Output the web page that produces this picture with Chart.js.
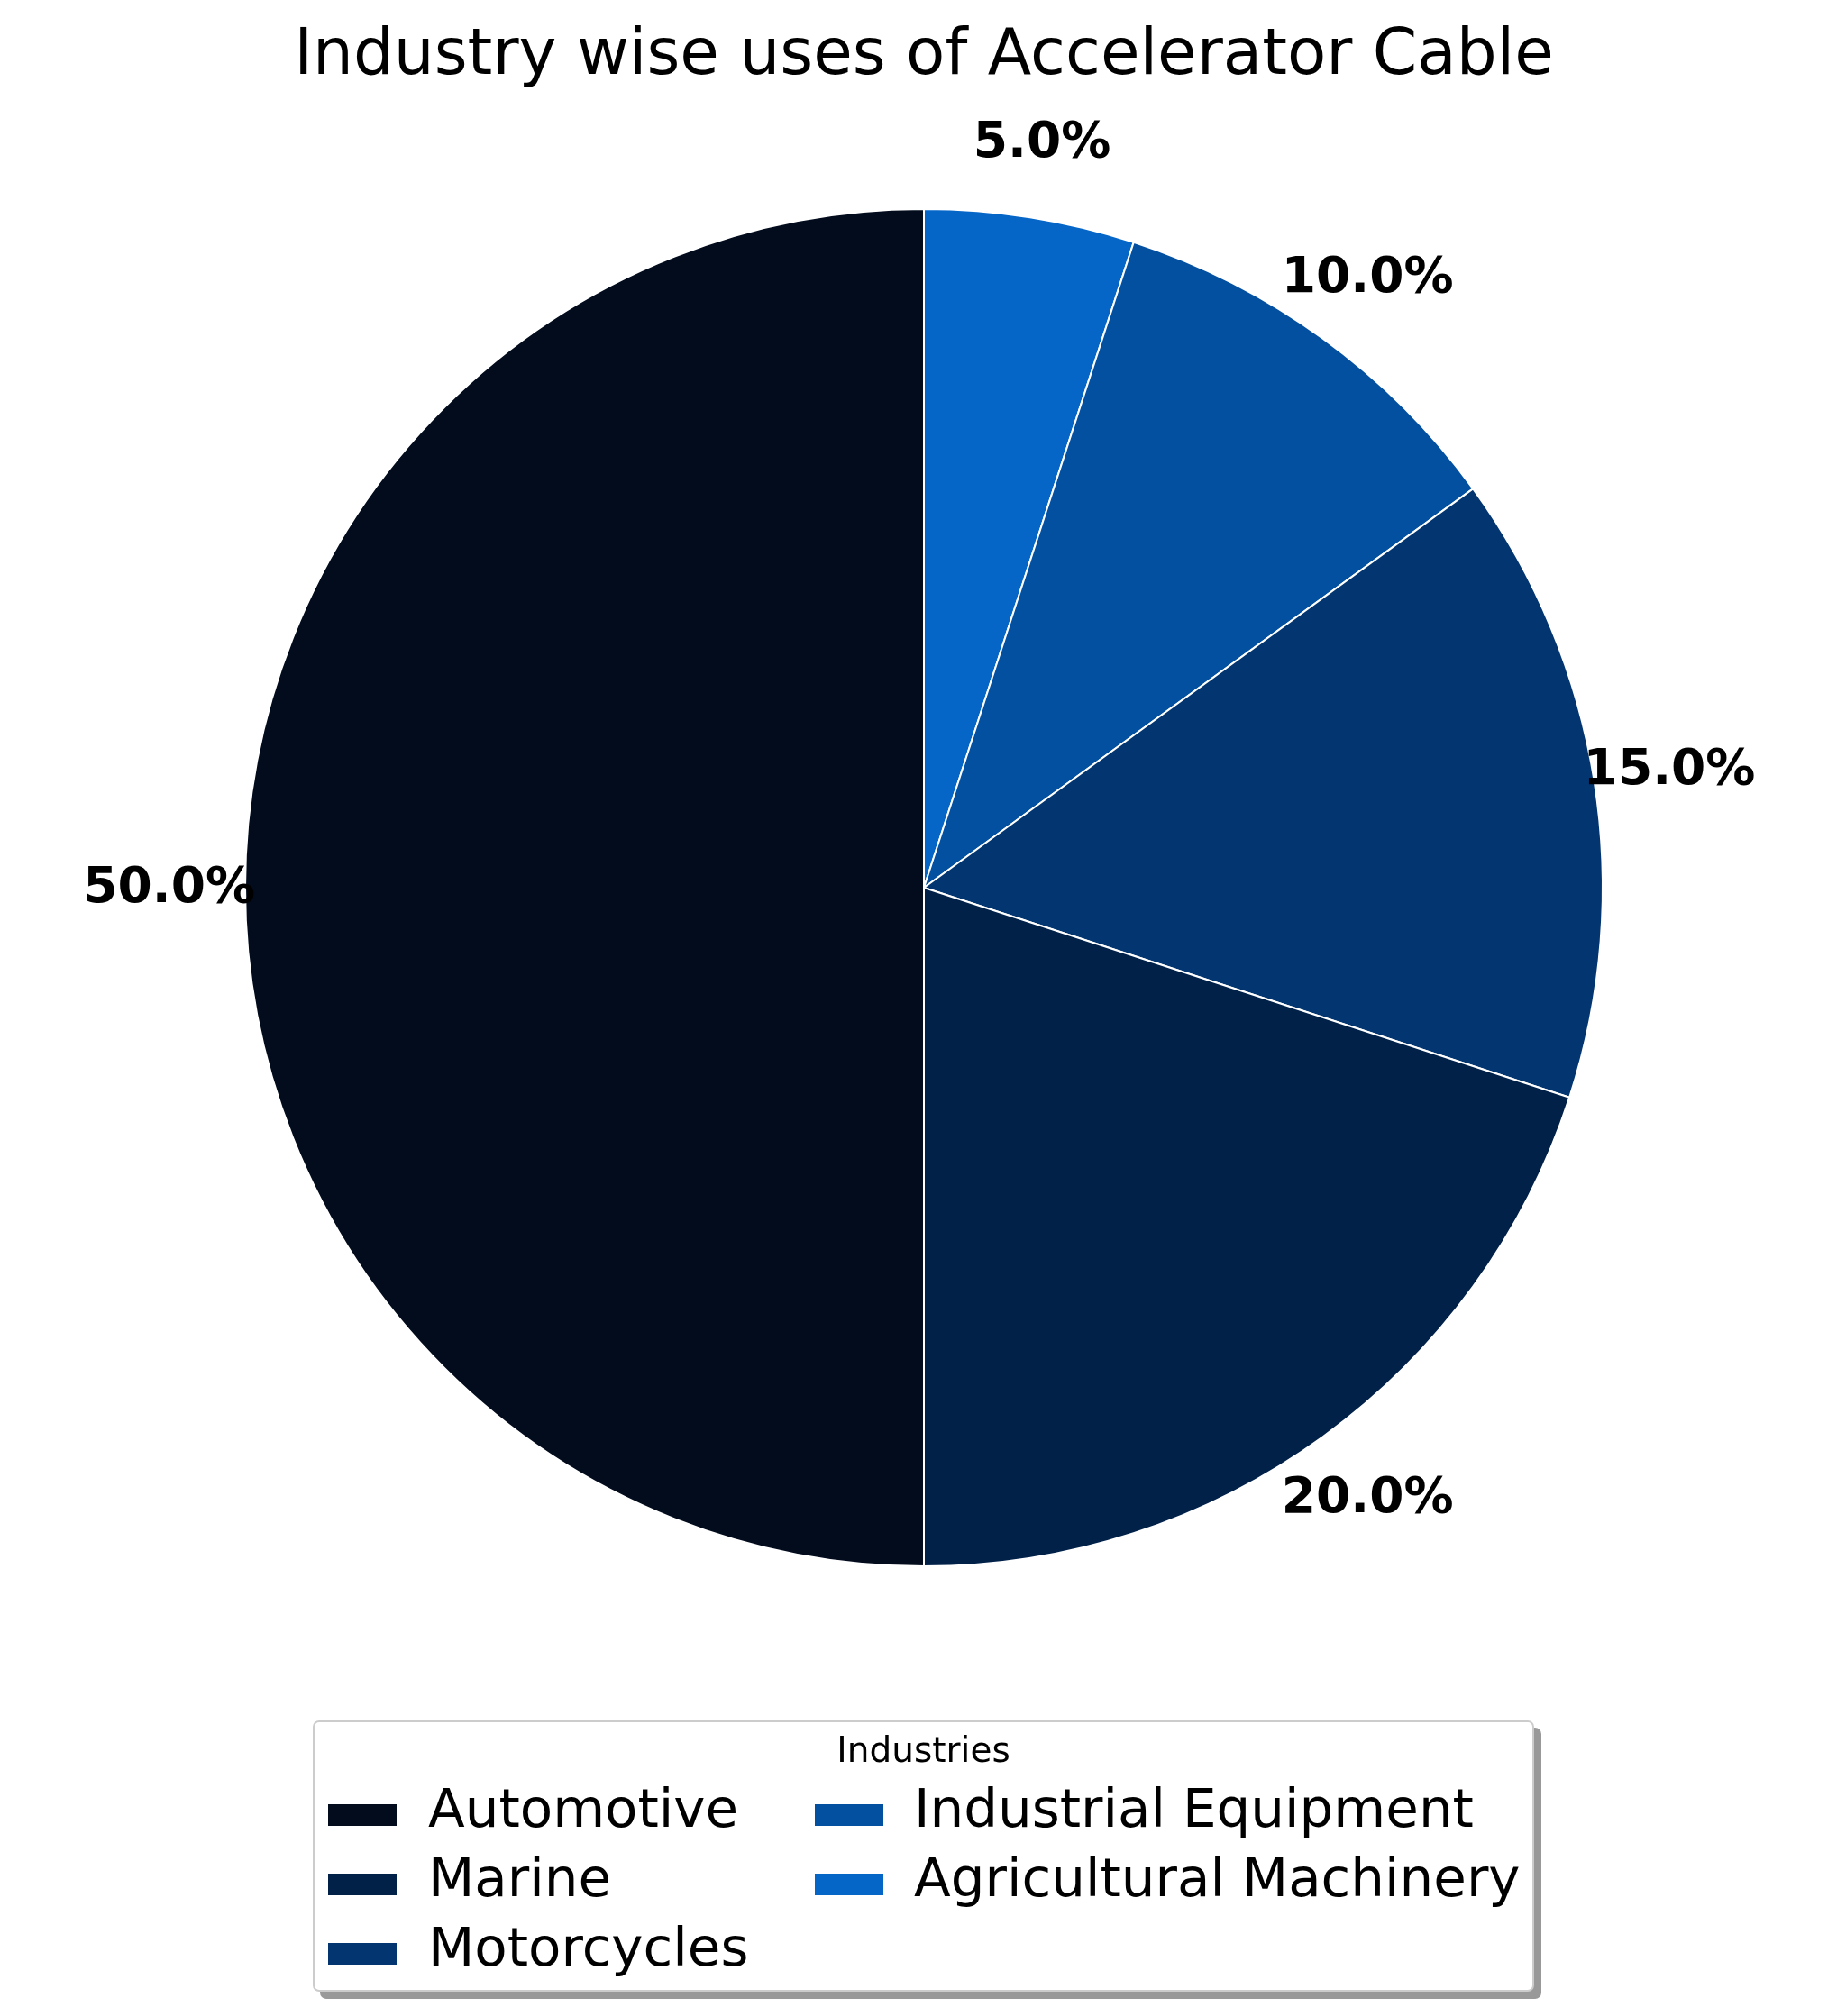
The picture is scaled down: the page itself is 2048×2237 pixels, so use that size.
<!DOCTYPE html>
<html>
<head>
<meta charset="utf-8">
<script src="https://cdn.jsdelivr.net/npm/chart.js@4.4.1/dist/chart.umd.min.js"></script>
<style>
  html, body { margin: 0; padding: 0; background: #fff; overflow: hidden; }
  #wrap { position: relative; width: 2048px; height: 2237px; }
  #chart { position: absolute; left: 0; top: 0; }
  #legend {
    position: absolute; left: 347px; top: 1909px; width: 1351px; height: 297px;
    border: 2px solid #cccccc; border-radius: 7px; background: #fff;
    box-shadow: 8px 8px 0 #999999;
    font-family: "DejaVu Sans", sans-serif; color: #000;
  }
  #legend .ttl { position: absolute; left: 0; right: 0; top: 11px; text-align: center; font-size: 39px; line-height: 1; }
  #legend .sw { position: absolute; width: 76px; height: 24px; }
  #legend .lb { position: absolute; font-size: 59.5px; line-height: 1; white-space: nowrap; }
</style>
</head>
<body>
<div id="wrap">
  <canvas id="chart" width="2048" height="2237"></canvas>
  <div id="legend"></div>
</div>
<script>
const chartTitle = 'Industry wise uses of Accelerator Cable';
const legendTitle = 'Industries';
const industries = ['Automotive', 'Marine', 'Motorcycles', 'Industrial Equipment', 'Agricultural Machinery'];
const shares = [50, 20, 15, 10, 5];
const colors = ['#020c1d', '#022149', '#033670', '#0450a0', '#0566c8'];

// matplotlib draws counter-clockwise from the top, Chart.js clockwise -> feed reversed
const pieLabels = industries.slice().reverse();
const pieValues = shares.slice().reverse();
const pieColors = colors.slice().reverse();

const textPlugin = {
  id: 'texts',
  afterDraw(c) {
    const ctx = c.ctx;
    ctx.save();
    ctx.fillStyle = '#000';
    ctx.textAlign = 'center';
    ctx.textBaseline = 'alphabetic';
    ctx.font = '70.8px "DejaVu Sans"';
    ctx.fillText(chartTitle, 1025, 82);

    const total = pieValues.reduce((a, b) => a + b, 0);
    const meta = c.getDatasetMeta(0);
    ctx.font = 'bold 55px "DejaVu Sans"';
    meta.data.forEach((arc, i) => {
      const p = arc.getProps(['x', 'y', 'startAngle', 'endAngle', 'outerRadius'], true);
      const mid = (p.startAngle + p.endAngle) / 2;
      const r = p.outerRadius * 1.112;
      const tx = p.x + Math.cos(mid) * r;
      const ty = p.y + Math.sin(mid) * r;
      const txt = (pieValues[i] / total * 100).toFixed(1) + '%';
      ctx.fillText(txt, tx, ty + 16);
    });
    ctx.restore();
  },
};

const chart = new Chart(document.getElementById('chart'), {
  type: 'pie',
  data: {
    labels: pieLabels,
    datasets: [{
      data: pieValues,
      backgroundColor: pieColors,
      borderColor: '#ffffff',
      borderWidth: 2,
    }],
  },
  options: {
    responsive: false,
    devicePixelRatio: 1,
    animation: false,
    rotation: 0,
    layout: {
      padding: { left: 271, right: 269, top: 231, bottom: 498 },
    },
    plugins: {
      legend: { display: false },
      title: { display: false },
      tooltip: { enabled: false },
    },
  },
  plugins: [textPlugin],
});

// legend in original order, two columns filled top to bottom
const legend = document.getElementById('legend');
const ttl = document.createElement('div');
ttl.className = 'ttl';
ttl.textContent = legendTitle;
legend.appendChild(ttl);
const rows = 3;
industries.forEach((name, i) => {
  const col = Math.floor(i / rows);
  const row = i % rows;
  const sw = document.createElement('div');
  sw.className = 'sw';
  sw.style.background = colors[i];
  sw.style.left = (15 + col * 540) + 'px';
  sw.style.top = (91 + row * 77) + 'px';
  const lb = document.createElement('div');
  lb.className = 'lb';
  lb.textContent = name;
  lb.style.left = (126 + col * 539) + 'px';
  lb.style.top = (66 + row * 77) + 'px';
  legend.appendChild(sw);
  legend.appendChild(lb);
});
</script>
</body>
</html>
